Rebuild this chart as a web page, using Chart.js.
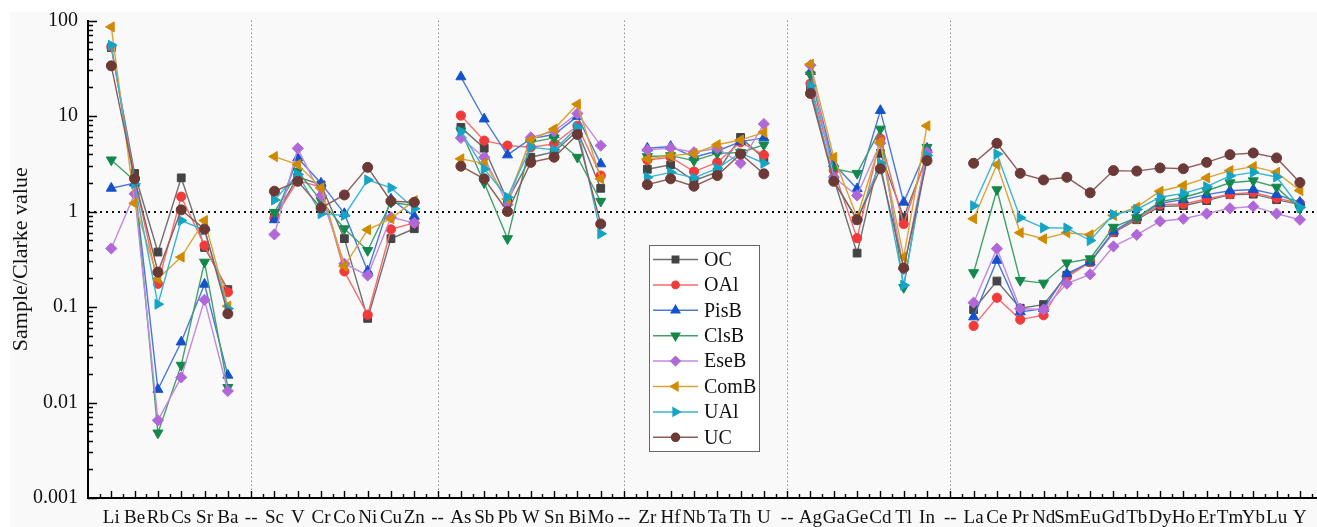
<!DOCTYPE html>
<html>
<head>
<meta charset="utf-8">
<title>Sample/Clarke value</title>
<script src="https://cdn.jsdelivr.net/npm/chart.js@4.4.1/dist/chart.umd.min.js"></script>
<style>
  html, body { margin: 0; padding: 0; background: #fff; overflow: hidden; }
  body { width: 1317px; height: 527px; position: relative; }
  #wrap { position: absolute; left: 10px; top: 12px; width: 1320px; height: 515px; background: #f9f9f9; }
</style>
</head>
<body>
<div id="wrap"><canvas id="chart"></canvas></div>
<script>
// element groups, '--' marks the break between groups
const categories = ['Li','Be','Rb','Cs','Sr','Ba','--','Sc','V','Cr','Co','Ni','Cu','Zn','--',
  'As','Sb','Pb','W','Sn','Bi','Mo','--','Zr','Hf','Nb','Ta','Th','U','--',
  'Ag','Ga','Ge','Cd','Tl','In','--','La','Ce','Pr','Nd','Sm','Eu','Gd','Tb','Dy','Ho','Er','Tm','Yb','Lu','Y'];
const seriesNames = ['OC','OAl','PisB','ClsB','EseB','ComB','UAl','UC'];
const yTickValues = [0.001, 0.01, 0.1, 1, 10, 100];

const OC   = [52, 2.5, 0.376, 2.25, 0.42, 0.152, null, 0.87, 2.3, 1.9, 0.52, 0.076, 0.52, 0.66, null,
  7.6, 4.6, 1.3, 3.7, 4.2, 7.0, 1.75, null, 2.77, 3.08, 2.1, 2.6, 5.97, 3.6, null,
  18.7, 2.2, 0.367, 4.06, 0.87, 3.8, null, 0.094, 0.187, 0.097, 0.106, 0.215, 0.295, 0.6, 0.82, 1.13, 1.15, 1.3, 1.5, 1.52, 1.33, 1.18];
const OAl  = [53, 2.2, 0.175, 1.43, 0.44, 0.143, null, 0.85, 2.11, 1.8, 0.236, 0.083, 0.65, 0.76, null,
  10.1, 5.52, 4.9, 4.7, 5.1, 7.9, 2.38, null, 3.45, 3.7, 2.62, 3.27, 5.3, 3.91, null,
  21.9, 2.7, 0.526, 5.83, 0.74, 4.0, null, 0.0634, 0.125, 0.0738, 0.082, 0.205, 0.295, 0.61, 0.84, 1.18, 1.2, 1.35, 1.52, 1.58, 1.38, 1.22];
const PisB = [1.75, 1.98, 0.0137, 0.043, 0.173, 0.0193, null, 0.82, 3.64, 1.98, 0.95, 0.238, 1.35, 0.89, null,
  25.7, 9.3, 3.91, 5.8, 6.4, 9.9, 3.15, null, 4.6, 4.8, 3.7, 4.3, 5.4, 5.9, null,
  29.2, 3.15, 1.73, 11.4, 1.25, 4.6, null, 0.0787, 0.308, 0.0887, 0.096, 0.223, 0.295, 0.62, 0.87, 1.22, 1.33, 1.5, 1.65, 1.7, 1.5, 1.25];
const ClsB = [3.47, 2.1, 0.0048, 0.0246, 0.295, 0.0144, null, 0.98, 2.64, 1.3, 0.66, 0.391, 1.25, 1.15, null,
  7.0, 2.0, 0.52, 5.3, 5.9, 3.7, 1.28, null, 3.76, 3.85, 3.41, 4.06, 4.15, 4.98, null,
  27, 2.8, 2.51, 7.3, 0.16, 4.7, null, 0.229, 1.69, 0.19, 0.178, 0.29, 0.32, 0.685, 0.86, 1.27, 1.4, 1.65, 2.0, 2.1, 1.8, 1.07];
const EseB = [0.41, 1.53, 0.0065, 0.0183, 0.119, 0.0132, null, 0.575, 4.58, 1.47, 0.284, 0.214, 0.87, 0.76, null,
  5.89, 3.69, 1.18, 5.97, 6.9, 10.6, 4.9, null, 4.42, 4.63, 4.17, 4.6, 3.2, 8.25, null,
  34, 2.28, 1.47, 5.2, 0.25, 4.17, null, 0.111, 0.408, 0.096, 0.094, 0.176, 0.22, 0.431, 0.57, 0.79, 0.84, 0.95, 1.08, 1.13, 0.95, 0.82];
const ComB = [85.7, 1.22, 0.198, 0.333, 0.805, 0.102, null, 3.76, 3.1, 1.77, 0.268, 0.644, 0.84, 1.3, null,
  3.56, 3.2, 1.35, 5.6, 7.3, 13.3, 2.2, null, 3.55, 3.85, 4.05, 5.0, 5.6, 6.74, null,
  34.9, 3.69, 0.87, 5.3, 0.333, 7.9, null, 0.84, 3.1, 0.599, 0.518, 0.6, 0.57, 0.91, 1.11, 1.63, 1.87, 2.25, 2.68, 2.95, 2.57, 1.66];
const UAl  = [55, 1.95, 0.107, 0.805, 0.64, 0.096, null, 1.32, 2.44, 0.95, 0.91, 2.14, 1.77, 1.07, null,
  6.86, 2.79, 1.41, 4.7, 4.42, 7.6, 0.585, null, 2.28, 2.57, 2.25, 2.83, 4.1, 3.2, null,
  20.7, 2.1, 0.82, 3.2, 0.169, 3.85, null, 1.15, 4.0, 0.86, 0.675, 0.67, 0.497, 0.93, 1.05, 1.41, 1.55, 1.82, 2.36, 2.57, 2.3, 1.1];
const UC   = [33.5, 2.2, 0.232, 1.04, 0.653, 0.085, null, 1.63, 2.07, 1.09, 1.49, 2.9, 1.28, 1.25, null,
  2.98, 2.2, 1.0, 3.27, 3.7, 6.4, 0.74, null, 1.91, 2.2, 1.84, 2.38, 4.0, 2.48, null,
  17.2, 2.07, 0.82, 2.8, 0.256, 3.41, null, 3.2, 5.17, 2.51, 2.14, 2.28, 1.57, 2.68, 2.65, 2.86, 2.8, 3.27, 3.94, 4.1, 3.64, 2.01];

const seriesValues = { OC: OC, OAl: OAl, PisB: PisB, ClsB: ClsB, EseB: EseB, ComB: ComB, UAl: UAl, UC: UC };

const STYLES = {
  OC:   { color: '#444444', line: '#707070', shape: 'rect',     rot: 0,   r: 5.5 },
  OAl:  { color: '#f33a3a', line: '#f46c6c', shape: 'circle',   rot: 0,   r: 4.6 },
  PisB: { color: '#1452cc', line: '#4a78dc', shape: 'triangle', rot: 0,   r: 5.8 },
  ClsB: { color: '#13884a', line: '#40a06c', shape: 'triangle', rot: 180, r: 5.8 },
  EseB: { color: '#b068d8', line: '#c08ae0', shape: 'rectRot',  rot: 0,   r: 5.6 },
  ComB: { color: '#d18a00', line: '#dca234', shape: 'triangle', rot: 270, r: 5.8 },
  UAl:  { color: '#16a4c6', line: '#36b6d4', shape: 'triangle', rot: 90,  r: 5.8 },
  UC:   { color: '#6b3936', line: '#8c5c5a', shape: 'circle',   rot: 0,   r: 5 }
};

Chart.defaults.font.family = '"Liberation Serif", "Times New Roman", serif';
Chart.defaults.color = '#111';

function isDecade(v) {
  return yTickValues.find(function(t) { return Math.abs(v / t - 1) < 1e-6; });
}

const decorPlugin = {
  id: 'decor',
  beforeDatasetsDraw(chart) {
    const ctx = chart.ctx, a = chart.chartArea, x = chart.scales.x, y = chart.scales.y;
    ctx.save();
    // group separators
    ctx.strokeStyle = '#8c8c8c'; ctx.lineWidth = 1; ctx.setLineDash([1.5, 2.5]);
    categories.forEach(function(c, i) {
      if (c !== '--') return;
      const px = Math.round(x.getPixelForValue(i + 1)) + 0.5;
      ctx.beginPath(); ctx.moveTo(px, a.top); ctx.lineTo(px, a.bottom); ctx.stroke();
    });
    // Clarke = 1 reference
    ctx.strokeStyle = '#111'; ctx.lineWidth = 1.8; ctx.setLineDash([2, 4]);
    const py = Math.round(y.getPixelForValue(1));
    ctx.beginPath(); ctx.moveTo(a.left, py); ctx.lineTo(a.right, py); ctx.stroke();
    ctx.restore();
  },
  afterDraw(chart) {
    const ctx = chart.ctx, a = chart.chartArea, x = chart.scales.x, y = chart.scales.y;
    ctx.save();
    // inward ticks
    ctx.strokeStyle = '#000'; ctx.lineWidth = 1.4; ctx.setLineDash([]);
    ctx.beginPath();
    for (let d = 0; d < yTickValues.length; d++) {
      const kmax = d === yTickValues.length - 1 ? 1 : 9;
      for (let k = 1; k <= kmax; k++) {
        const py = Math.round(y.getPixelForValue(yTickValues[d] * k)) + 0.5;
        ctx.moveTo(a.left, py); ctx.lineTo(a.left + (k === 1 ? 9 : 5), py);
      }
    }
    for (let i = 0; i <= categories.length; i++) {
      if (i > 0) {
        const px = Math.round(x.getPixelForValue(i)) + 0.5;
        ctx.moveTo(px, a.bottom); ctx.lineTo(px, a.bottom - 7);
      }
      const pm = Math.round(x.getPixelForValue(i + 0.5)) + 0.5;
      ctx.moveTo(pm, a.bottom); ctx.lineTo(pm, a.bottom - 4);
    }
    ctx.stroke();

    // legend box
    const lx = 639, ly = 233, lw = 110, lh = 206;
    ctx.fillStyle = '#ffffff'; ctx.fillRect(lx, ly, lw, lh);
    ctx.strokeStyle = '#666'; ctx.lineWidth = 1; ctx.strokeRect(lx + 0.5, ly + 0.5, lw, lh);
    ctx.font = '20px "Liberation Serif", "Times New Roman", serif';
    ctx.textBaseline = 'middle'; ctx.textAlign = 'left';
    seriesNames.forEach(function(name, i) {
      const st = STYLES[name];
      const cy = ly + 14.5 + i * 25.4;
      ctx.strokeStyle = st.line; ctx.lineWidth = 1.5;
      ctx.beginPath(); ctx.moveTo(lx + 4, cy); ctx.lineTo(lx + 49, cy); ctx.stroke();
      ctx.fillStyle = st.color; ctx.strokeStyle = st.color;
      if (Chart.helpers && Chart.helpers.drawPoint) {
        Chart.helpers.drawPoint(ctx, { pointStyle: st.shape, rotation: st.rot, radius: st.r - 1, borderWidth: 1 }, lx + 26.5, cy);
      } else {
        ctx.beginPath(); ctx.arc(lx + 26.5, cy, 3.5, 0, Math.PI * 2); ctx.fill();
      }
      ctx.fillStyle = '#111';
      ctx.fillText(name, lx + 55, cy + 1);
    });
    ctx.restore();
  }
};

const labels = [''].concat(categories, ['']);

new Chart(document.getElementById('chart'), {
  type: 'line',
  data: {
    labels: labels,
    datasets: seriesNames.map(function(name, i) {
      const st = STYLES[name];
      return {
        label: name,
        data: [null].concat(seriesValues[name], [null]),
        borderColor: st.line, backgroundColor: st.color, borderWidth: 1.4,
        pointStyle: st.shape, pointRotation: st.rot, pointRadius: st.r,
        pointBackgroundColor: st.color, pointBorderColor: st.color, pointBorderWidth: 1,
        tension: 0, spanGaps: false, order: seriesNames.length - i
      };
    })
  },
  options: {
    responsive: true, maintainAspectRatio: false, animation: false, events: [],
    layout: { padding: { top: 8.5, right: 0, bottom: 0, left: 0 } },
    plugins: { legend: { display: false }, tooltip: { enabled: false } },
    scales: {
      x: {
        type: 'category', offset: false,
        grid: { display: false },
        border: { display: true, color: '#000', width: 2 },
        ticks: { autoSkip: false, maxRotation: 0, minRotation: 0, padding: 3, font: { size: 19, lineHeight: 1 }, color: '#111' },
        afterFit: function(s) { s.height = 29; s.paddingLeft = 0; s.paddingRight = 0; }
      },
      y: {
        type: 'logarithmic', min: 0.001, max: 100,
        grid: { display: false },
        border: { display: true, color: '#000', width: 2 },
        ticks: {
          autoSkip: false, padding: 2, font: { size: 20 }, color: '#111',
          callback: function(v) { const t = isDecade(v); return t !== undefined ? String(t) : ''; }
        },
        title: { display: true, text: 'Sample/Clarke value', font: { size: 22, lineHeight: 1 }, padding: { top: 0, bottom: 0 }, color: '#111' },
        afterFit: function(s) { s.width = 78; s.paddingTop = 0; s.paddingBottom = 0; }
      }
    }
  },
  plugins: [decorPlugin]
});
</script>
</body>
</html>
